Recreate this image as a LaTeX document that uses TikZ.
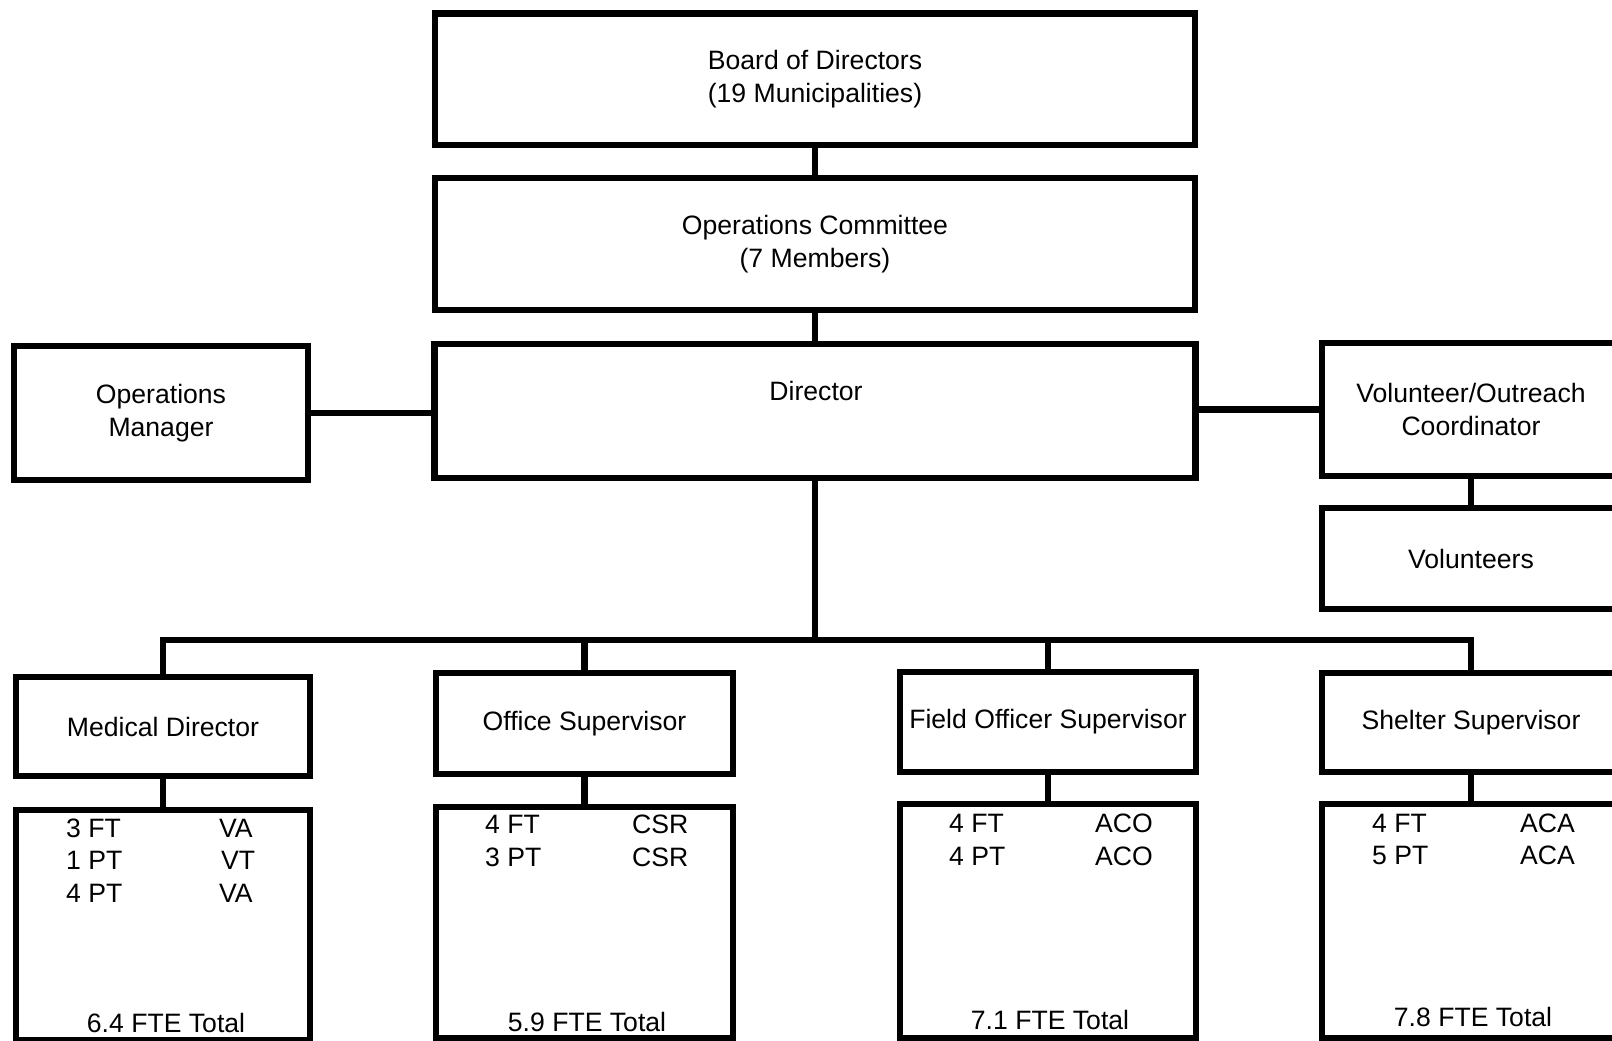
\documentclass[tikz,border=0pt]{standalone}
\usepackage{fontspec}
\setmainfont{Liberation Sans}
\begin{document}
\begin{tikzpicture}[x=1pt,y=-1pt,
  box/.style={draw=black, line width=6.5pt, inner sep=0pt, align=center,
    font=\fontsize{26.6}{33}\selectfont},
  txt/.style={inner sep=0pt, font=\fontsize{26.6}{33}\selectfont},
  conn/.style={draw=black, line width=6.5pt}]
\useasboundingbox (0,0) rectangle (1612,1041);
% top chain
\node[box, minimum width=760pt, minimum height=131.5pt] (board) at (815,79.25) {Board of Directors\\(19 Municipalities)};
\node[box, minimum width=760pt, minimum height=132pt] (opscom) at (815,244) {Operations Committee\\(7 Members)};
\node[box, minimum width=761pt, minimum height=134pt] (dir) at (815,411) {};
\node[txt, anchor=base] (dirtext) at (816,400) {Director};
\node[box, minimum width=294pt, minimum height=134pt] (opsmgr) at (161,413) {Operations\\Manager};
\node[box, minimum width=298pt, minimum height=133pt] (vc) at (1471,409.5) {Volunteer/Outreach\\Coordinator};
\node[box, minimum width=298pt, minimum height=101pt] (vols) at (1471,558.5) {Volunteers};
% supervisors
\node[box, minimum width=294pt, minimum height=99pt] (med) at (163,726.5) {Medical Director};
\node[box, minimum width=297pt, minimum height=101pt] (off) at (584.5,723.5) {Office Supervisor};
\node[box, minimum width=296pt, minimum height=100pt] (fld) at (1048,722) {Field Officer Supervisor};
\node[box, minimum width=298pt, minimum height=99pt] (shl) at (1471,722.5) {Shelter Supervisor};
% detail boxes
\node[box, minimum width=294pt, minimum height=230pt] (medd) at (163,925) {};
\node[box, minimum width=297pt, minimum height=231pt] (offd) at (584.5,922.5) {};
\node[box, minimum width=296pt, minimum height=234pt] (fldd) at (1048,921) {};
\node[box, minimum width=298pt, minimum height=234pt] (shld) at (1471,921) {};
% detail texts
\node[txt, anchor=base west] (m1a) at (66,837) {3 FT};
\node[txt, anchor=base west] (m1b) at (219,837) {VA};
\node[txt, anchor=base west] (m2a) at (66,869.5) {1 PT};
\node[txt, anchor=base west] (m2b) at (221,869.5) {VT};
\node[txt, anchor=base west] (m3a) at (66,902) {4 PT};
\node[txt, anchor=base west] (m3b) at (219,902) {VA};
\node[txt, anchor=base] (mtot) at (166,1032) {6.4 FTE Total};
\node[txt, anchor=base west] (o1a) at (485,833) {4 FT};
\node[txt, anchor=base west] (o1b) at (632,833) {CSR};
\node[txt, anchor=base west] (o2a) at (485,866) {3 PT};
\node[txt, anchor=base west] (o2b) at (632,866) {CSR};
\node[txt, anchor=base] (otot) at (587,1031) {5.9 FTE Total};
\node[txt, anchor=base west] (f1a) at (949,832) {4 FT};
\node[txt, anchor=base west] (f1b) at (1095,832) {ACO};
\node[txt, anchor=base west] (f2a) at (949,865) {4 PT};
\node[txt, anchor=base west] (f2b) at (1095,865) {ACO};
\node[txt, anchor=base] (ftot) at (1050,1029) {7.1 FTE Total};
\node[txt, anchor=base west] (s1a) at (1372,832) {4 FT};
\node[txt, anchor=base west] (s1b) at (1520,832) {ACA};
\node[txt, anchor=base west] (s2a) at (1372,864) {5 PT};
\node[txt, anchor=base west] (s2b) at (1520,864) {ACA};
\node[txt, anchor=base] (stot) at (1473,1026) {7.8 FTE Total};
% connectors
\coordinate (bus) at (815,640);
\draw[conn] (board.south) -- (opscom.north);
\draw[conn] (opscom.south) -- (opscom.south |- dir.north);
\draw[conn] (opsmgr.east) -- (opsmgr.east -| dir.west);
\draw[conn] (dir.east |- vc.west) -- (vc.west);
\draw[conn] (vc.south) -- (vols.north);
\draw[conn] (dir.south) -- (bus);
\draw[conn, line join=miter] (med.north) |- (bus) -| (shl.north);
\draw[conn] (off.north) -- (off.north |- bus);
\draw[conn] (fld.north) -- (fld.north |- bus);
\draw[conn] (med.south) -- (medd.north);
\draw[conn] (off.south) -- (offd.north);
\draw[conn] (fld.south) -- (fldd.north);
\draw[conn] (shl.south) -- (shld.north);
\end{tikzpicture}
\end{document}
